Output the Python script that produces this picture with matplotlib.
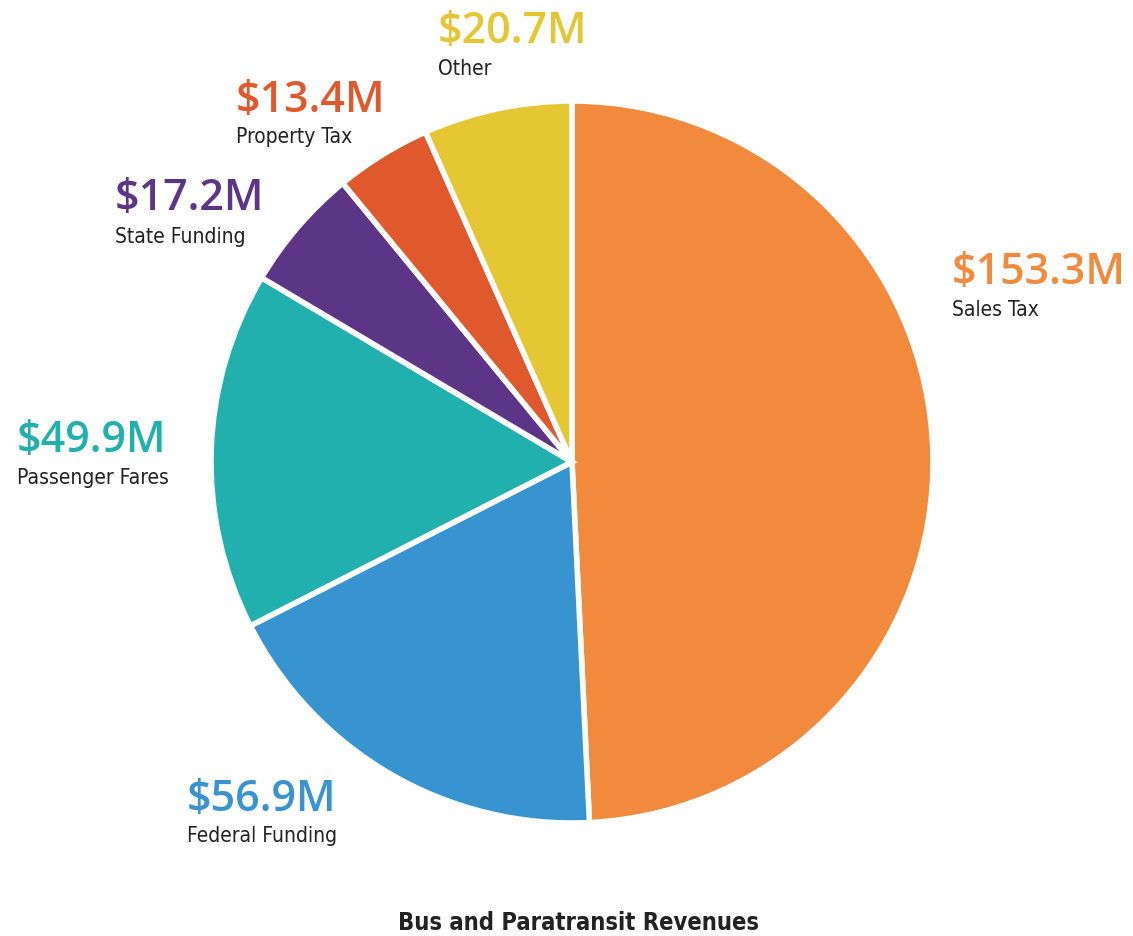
import matplotlib.pyplot as plt

categories = ['Sales Tax', 'Federal Funding', 'Passenger Fares', 'State Funding', 'Property Tax', 'Other']
values = [153.3, 56.9, 49.9, 17.2, 13.4, 20.7]
colors = ['#F28A3E', '#3893D1', '#21B0AE', '#5C3586', '#E0592D', '#E5C633']

# label anchor (left x, value baseline, name baseline) in pixels
label_pos = {
    'Sales Tax': (952, 284, 316),
    'Federal Funding': (187, 811, 842),
    'Passenger Fares': (17, 452, 484),
    'State Funding': (115, 210, 243),
    'Property Tax': (236, 112, 143),
    'Other': (438, 43, 75),
}

W, H = 1133, 936
fig = plt.figure(figsize=(W / 100, H / 100), dpi=100)

cx, cy, r = 572, 462, 361
ax = fig.add_axes([(cx - r) / W, 1 - (cy + r) / H, 2 * r / W, 2 * r / H])
ax.pie(values, colors=colors, startangle=90, counterclock=False, radius=1,
       wedgeprops=dict(edgecolor='white', linewidth=4))
ax.set_xlim(-1, 1)
ax.set_ylim(-1, 1)
ax.axis('off')

value_font = ['Open Sans', 'DejaVu Sans']
name_font = ['DejaVu Sans']

for cat, val, col in zip(categories, values, colors):
    x, yv, yn = label_pos[cat]
    fig.text(x / W, 1 - yv / H, f'${val:.1f}M', color=col, fontsize=31,
             family=value_font, fontweight='semibold', va='baseline', ha='left')
    fig.text(x / W, 1 - yn / H, cat, color='#222222', fontsize=15,
             family=name_font, fontstretch='condensed', va='baseline', ha='left')

fig.text(578 / W, 1 - 930 / H, 'Bus and Paratransit Revenues', color='#222222',
         fontsize=17, family=name_font, fontstretch='condensed', fontweight='bold',
         va='baseline', ha='center')

fig.savefig('out.png', dpi=100)
